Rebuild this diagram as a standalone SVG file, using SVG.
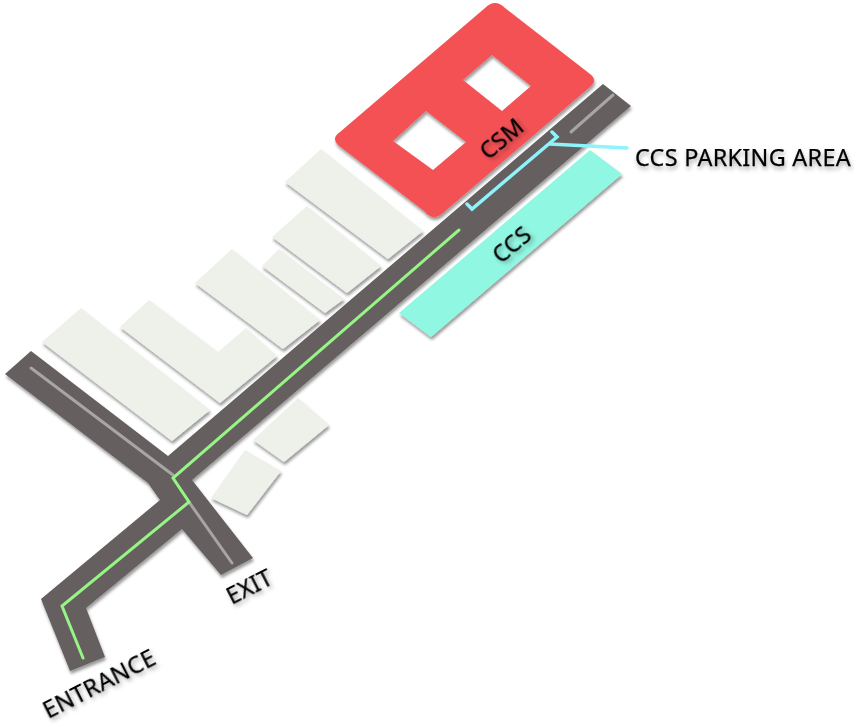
<svg xmlns="http://www.w3.org/2000/svg" width="862" height="726" viewBox="0 0 862 726">
<defs>
<filter id="sh" x="-20%" y="-20%" width="140%" height="140%"><feDropShadow dx="1" dy="3" stdDeviation="1.5" flood-color="#000" flood-opacity="0.4"/></filter>
<filter id="ts" x="-30%" y="-100%" width="160%" height="300%"><feDropShadow dx="1" dy="3" stdDeviation="2" flood-color="#000" flood-opacity="0.35"/></filter>
</defs>
<style>
.b{fill:#eef0ea;filter:url(#sh)}
.l{fill:none;stroke-linecap:round;stroke-linejoin:miter}
.g{stroke:#96f585;stroke-width:3}
.y{stroke:#a8a5a5;stroke-width:3}
.c{stroke:#8ef4fb;stroke-width:3.5}
text{font-family:"Noto Sans","Open Sans",sans-serif;font-size:23px;font-weight:400;letter-spacing:.3px;fill:#000;stroke:#000;stroke-width:.25px;filter:url(#ts)}
</style>
<rect width="862" height="726" fill="#fff"/>
<g id="buildings">
<polygon id="b1" class="b" points="81,308 210,410 172,441 42,342"/>
<polygon id="b2" class="b" points="149,300 218,352 246,328 277,356 220,403 120,327"/>
<polygon id="b3" class="b" points="232,249 320,320 283,349 195,283"/>
<polygon id="b4" class="b" points="279,249 344,299 325,313 262,266"/>
<polygon id="b5" class="b" points="307,206 381,266 347,293 272,237"/>
<polygon id="b6" class="b" points="321,149 423,231 388,259 285,182"/>
<polygon id="b7" class="b" points="298,398 329,425 284,462 253,440"/>
<polygon id="b8" class="b" points="245,450 281,471 247,515 211,498"/>
</g>
<g id="csm">
<path fill="#f45155" fill-rule="evenodd" filter="url(#sh)" d="M340 132L485 8Q495 -2 505 8L590 74Q598 80 590 87L443 213Q433 222 424 211L338 145Q331 138 340 132ZM426 111L393 141L433 170L466 142ZM492 55L463 80L502 111L531 86Z"/>
<text transform="translate(507,145) rotate(-40)" text-anchor="middle">CSM</text>
</g>
<g id="ccs">
<polygon fill="#90f7e2" filter="url(#sh)" points="590,150 622,174 431,337 399,313"/>
<text transform="translate(517,251) rotate(-40)" text-anchor="middle">CCS</text>
</g>
<g id="road">
<polygon fill="#655e5e" filter="url(#sh)" points="603,84 631,106 192,480 253,558 221,575 182,529 86,608 105,657 70,671 41,599 160,500 148,483 5,374 31,351 168,456"/>
</g>
<g id="connectors">
<polyline class="l y" points="31,368 173,475"/>
<polyline class="l y" points="189,502 232,563"/>
<polyline class="l y" points="613,95 571,132"/>
<polyline class="l g" points="459,230 173,478 189,502 62,606 83,658"/>
<polyline class="l c" points="552,132 557,137 472,209 467,204"/>
<polyline class="l c" points="550,144 627,148"/>
</g>
<g id="labels">
<text x="635" y="166" textLength="216" lengthAdjust="spacingAndGlyphs">CCS PARKING AREA</text>
<text transform="translate(103,691) rotate(-27)" text-anchor="middle" textLength="123" lengthAdjust="spacingAndGlyphs">ENTRANCE</text>
<text transform="translate(253,594) rotate(-27)" text-anchor="middle">EXIT</text>
</g>
</svg>
